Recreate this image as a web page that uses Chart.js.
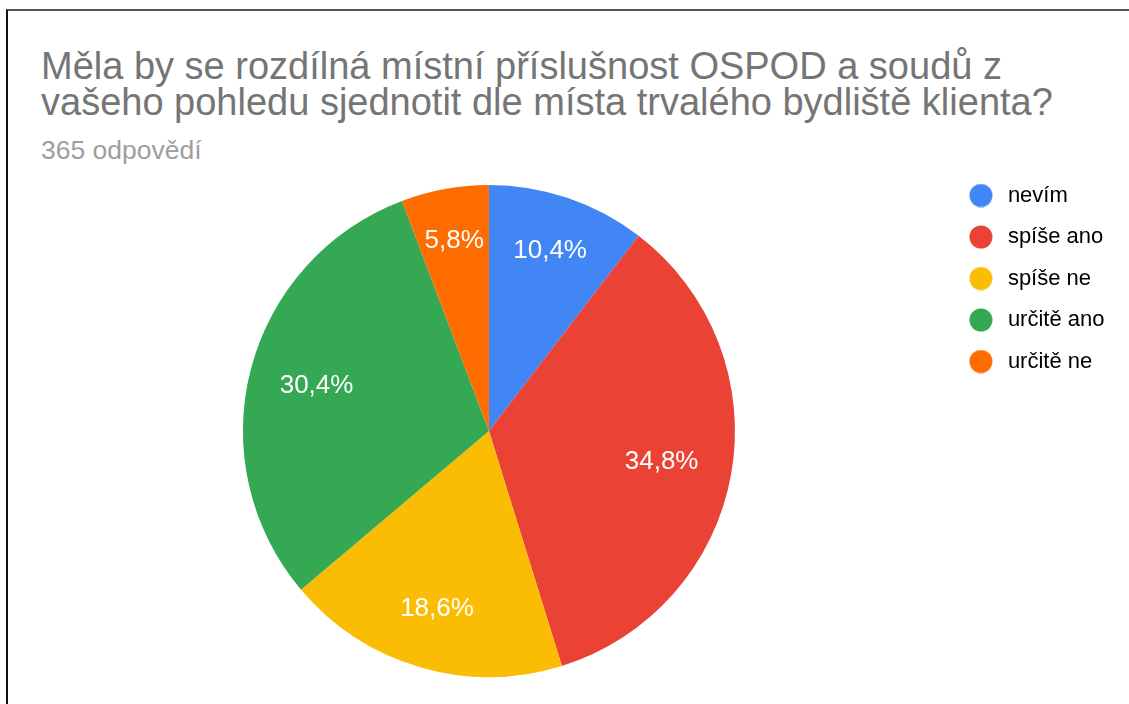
<!DOCTYPE html>
<html>
<head>
<meta charset="utf-8">
<script src="https://cdn.jsdelivr.net/npm/chart.js@4"></script>
<style>
  body { margin: 0; background: #fff; font-family: "Liberation Sans", Arial, sans-serif; }
  #frame { position: absolute; left: 6px; top: 9px; width: 1123px; height: 695px;
           border-left: 2px solid #111; border-top: 2px solid #555; }
  #title { position: absolute; left: 41px; top: 48px; font-size: 38px; line-height: 36px; color: #757575; white-space: nowrap; }
  #sub { position: absolute; left: 41px; top: 137px; font-size: 26.5px; line-height: 26px; color: #9e9e9e; }
  #wrap { position: absolute; left: 0; top: 165px; width: 1129px; height: 539px; }
</style>
</head>
<body>
<div id="frame"></div>
<div id="title">Měla by se rozdílná místní příslušnost OSPOD a soudů z<br>vašeho pohledu sjednotit dle místa trvalého bydliště klienta?</div>
<div id="sub">365 odpovědí</div>
<div id="wrap"><canvas id="chart"></canvas></div>
<script>
  // answers and counts (365 responses)
  var labels = ['nevím', 'spíše ano', 'spíše ne', 'určitě ano', 'určitě ne'];
  var counts = [38, 127, 68, 111, 21];
  var colors = ['#4285f4', '#ea4335', '#fbbc04', '#34a853', '#ff6d01'];

  // legend dot, drawn left of the box so the text sits further away
  function dot(color) {
    var c = document.createElement('canvas');
    c.width = 40; c.height = 24;
    var g = c.getContext('2d');
    g.fillStyle = color;
    g.beginPath();
    g.arc(13, 12, 11.5, 0, Math.PI * 2);
    g.fill();
    return c;
  }

  // percentage text inside each slice, small slices pushed a bit outwards
  var sliceLabels = {
    id: 'sliceLabels',
    afterDatasetsDraw: function(chart) {
      var ctx = chart.ctx;
      var data = chart.data.datasets[0].data;
      var total = data.reduce(function(a, b) { return a + b; }, 0);
      ctx.save();
      ctx.fillStyle = '#fff';
      ctx.font = '26px "Liberation Sans", Arial, sans-serif';
      ctx.textAlign = 'center';
      ctx.textBaseline = 'middle';
      chart.getDatasetMeta(0).data.forEach(function(arc, i) {
        var p = arc.getProps(['x', 'y', 'startAngle', 'endAngle', 'outerRadius'], true);
        var mid = (p.startAngle + p.endAngle) / 2;
        var frac = data[i] / total;
        var r = p.outerRadius * (0.8 - 0.25 * frac);
        var txt = (frac * 100).toFixed(1).replace('.', ',') + '%';
        ctx.fillText(txt, p.x + Math.cos(mid) * r, p.y + Math.sin(mid) * r);
      });
      ctx.restore();
    }
  };

  new Chart(document.getElementById('chart'), {
    type: 'pie',
    data: {
      labels: labels,
      datasets: [{
        data: counts,
        backgroundColor: colors,
        borderWidth: 0
      }]
    },
    options: {
      responsive: true,
      maintainAspectRatio: false,
      animation: false,
      radius: 246,
      layout: { padding: { left: 18.5, right: 14.5, top: 0, bottom: 7 } },
      plugins: {
        tooltip: { enabled: false },
        legend: {
          position: 'right',
          align: 'start',
          labels: {
            usePointStyle: true,
            boxWidth: 18,
            boxHeight: 18,
            padding: 19.5,
            color: '#222',
            font: { size: 22, family: '"Liberation Sans", Arial, sans-serif' },
            generateLabels: function(chart) {
              return chart.data.labels.map(function(l, i) {
                return { text: l, pointStyle: dot(colors[i]), fillStyle: colors[i], lineWidth: 0, hidden: false, index: i };
              });
            }
          }
        }
      }
    },
    plugins: [sliceLabels]
  });
</script>
</body>
</html>
